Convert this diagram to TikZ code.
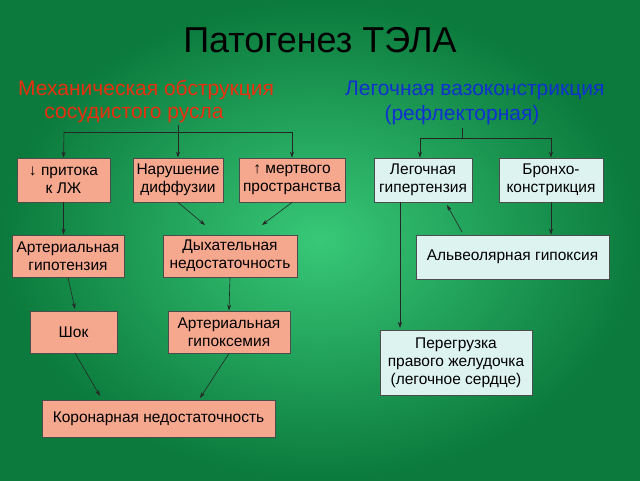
\documentclass[tikz,border=0pt]{standalone}
\usepackage{fontspec}
\setmainfont{Liberation Sans}
\usetikzlibrary{arrows.meta}
\definecolor{bgc}{HTML}{38C878}
\definecolor{bge}{HTML}{0B7A3C}
\definecolor{sal}{HTML}{F5A88E}
\definecolor{cya}{HTML}{DDF3F0}
\definecolor{hred}{HTML}{E8300F}
\definecolor{hblue}{HTML}{1030D0}
\begin{document}
\begin{tikzpicture}[x=1pt,y=-1pt,
  bx/.style={draw=black!70,line width=0.8pt,align=center,inner sep=1pt,font=\fontsize{15.5}{18}\selectfont},
  lb/.style={bx,fill=sal},
  rb/.style={bx,fill=cya},
  ar/.style={-{Stealth[length=6pt,width=4pt]},line width=0.6pt,black!85},
  ln/.style={line width=0.6pt,black!85}]
\shade[inner color=bgc,outer color=bge] (0,0) rectangle (640,480);
\useasboundingbox (0,0) rectangle (640,480);
\node (title) at (320,40) {\fontsize{36}{40}\selectfont Патогенез ТЭЛА};
\node[hred,anchor=west,inner sep=0] (h1) at (18,90) {\fontsize{21}{24}\selectfont Механическая обструкция};
\node[hred] (h2) at (134,115) {\fontsize{21}{24}\selectfont сосудистого русла};
\node[hblue,anchor=west,inner sep=0] (h3) at (345,90) {\fontsize{21}{24}\selectfont Легочная вазоконстрикция};
\node[hblue] (h4) at (462,115) {\fontsize{21}{24}\selectfont (рефлекторная)};
% left boxes
\node[lb,minimum width=93,minimum height=44] (a1) at (63.5,180) {↓ притока\\к ЛЖ};
\node[lb,minimum width=90,minimum height=44] (a2) at (178,180) {Нарушение\\диффузии};
\node[lb,minimum width=106,minimum height=44] (a3) at (292,180) {↑ мертвого\\пространства};
\node[lb,minimum width=112,minimum height=42] (b1) at (68,256) {Артериальная\\гипотензия};
\node[lb,minimum width=134,minimum height=42] (b2) at (230,256) {Дыхательная\\недостаточность};
\node[lb,minimum width=87,minimum height=42] (c1) at (73.5,332) {Шок};
\node[lb,minimum width=122,minimum height=42] (c2) at (229,332) {Артериальная\\гипоксемия};
\node[lb,minimum width=233,minimum height=37] (d1) at (158.5,418.5) {Коронарная недостаточность};
% right boxes
\node[rb,minimum width=98,minimum height=44] (r1) at (423,180) {Легочная\\гипертензия};
\node[rb,minimum width=104,minimum height=44] (r2) at (551,180) {Бронхо-\\констрикция};
\node[rb,minimum width=193,minimum height=44] (r3) at (512.5,257) {Альвеолярная гипоксия};
\node[rb,minimum width=152,minimum height=65] (r4) at (456,362.5) {Перегрузка\\правого желудочка\\(легочное сердце)};
% coordinates
\coordinate (lt) at (178,125);
\coordinate (lbl) at (64,132);
\coordinate (lbm) at (178,132);
\coordinate (lbr) at (292,132);
\coordinate (rt) at (462,128);
\coordinate (rbl) at (420,138);
\coordinate (rbr) at (551,138);
\draw[ln] (lt) -- (lbm);
\draw[ln] (lbl) -- (lbr);
\draw[ar] (lbl) -- (a1.north);
\draw[ar] (lbm) -- (a2.north);
\draw[ar] (lbr) -- (a3.north);
\draw[ln] (rt) -- (462,138);
\draw[ln] (rbl) -- (rbr);
\draw[ar] (rbl) -- (rbl |- r1.north);
\draw[ar] (rbr) -- (r2.north);
\coordinate (e1) at (205,225);
\coordinate (e2) at (262,225);
\draw[ar] (a1.south) -- (b1.north -| a1.south);
\draw[ar] (a2.south) -- (e1);
\draw[ar] (a3.south) -- (e2);
\draw[ar] (b2.south) -- (c2.north);
\draw[ar] (b1.south) -- (75,309);
\draw[ar] (75,353) -- (100,396);
\draw[ar] (c2.south) -- (200,398);
\draw[ar] (r2.south) -- (r3.north -| r2.south);
\draw[ar] (462,232) -- (447,205);
\draw[ar] (400,202) -- (400,328);
\end{tikzpicture}
\end{document}
